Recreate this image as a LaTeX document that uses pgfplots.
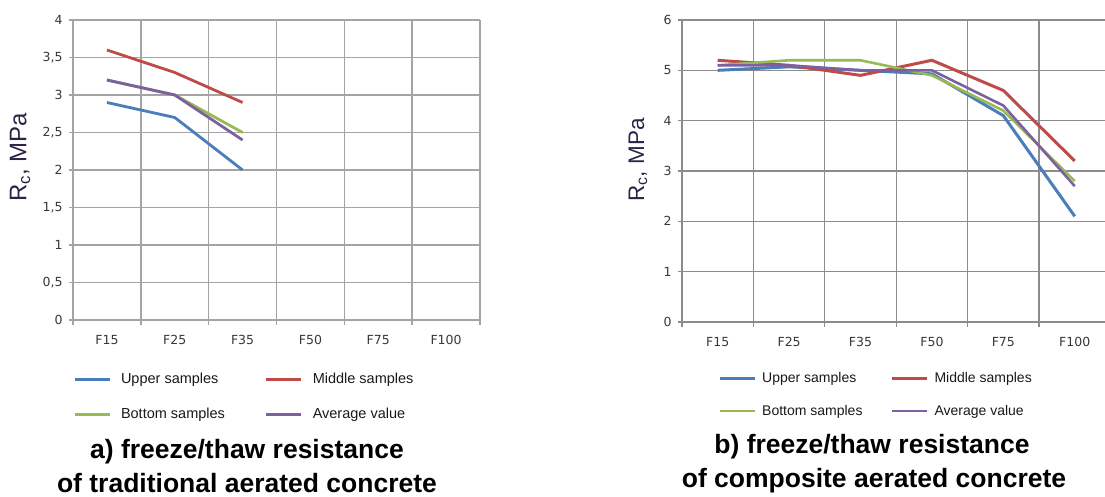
\documentclass[border=0pt]{standalone}
\usepackage{fontspec}
\setmainfont{Liberation Sans}
\newfontfamily\tickfont{DejaVu Sans}
\usepackage{pgfplots}
\pgfplotsset{compat=1.18}
\definecolor{cBlue}{HTML}{4A7EBB}
\definecolor{cRed}{HTML}{BE4B48}
\definecolor{cGreen}{HTML}{98B954}
\definecolor{cPurple}{HTML}{7D60A0}
\definecolor{cGridA}{HTML}{A4A4A4}
\definecolor{cGridB}{HTML}{8C8C8C}
\definecolor{cLab}{HTML}{2E2346}
\definecolor{cTick}{HTML}{383838}
\pgfplotsset{
  base/.style={
    scale only axis,
    axis x line=bottom, axis y line=left,
    xmin=-0.5, ymin=0,
    xtick={0,...,5}, xticklabels={F15,F25,F35,F50,F75,F100},
    major x tick style={draw=none},
    minor xtick={-0.5,0.5,...,5.5},
    xminorgrids, ymajorgrids,
    tick align=outside,
    major tick length=4pt, minor tick length=5pt,
    ytick pos=left, xtick pos=bottom,
    /pgf/number format/assume math mode=true,
    xticklabel style={font=\tickfont\fontsize{12.5}{14}\selectfont, text=cTick, yshift=-8pt},
    yticklabel style={font=\tickfont\fontsize{12.5}{14}\selectfont, text=cTick, xshift=-3pt,
      /pgf/number format/.cd, use comma, fixed, precision=1},
    ylabel={R\textsubscript{c}, MPa},
    ylabel style={text=cLab, anchor=center},
    legend columns=2,
    legend cell align=left,
    legend image code/.code={\draw[##1] (0pt,0pt) -- (35pt,0pt);},
    legend style={draw=none, fill=none, inner sep=0pt, anchor=north west,
      font=\fontsize{14.5}{17}\selectfont, text=black!90, row sep=19pt,
      /tikz/every odd column/.append style={column sep=8pt},
      /tikz/every even column/.append style={column sep=38pt}},
  },
}
\begin{document}
\begin{tikzpicture}
\useasboundingbox (0,0) rectangle (1105pt,496pt);
% ---------------- left chart ----------------
\begin{axis}[base,
  at={(73pt,176pt)}, anchor=south west, width=407pt, height=300pt,
  xmax=5.5, ymax=4, ytick={0,0.5,1,1.5,2,2.5,3,3.5,4},
  axis line style={cGridA, line width=1.6pt, -},
  minor x grid style={cGridA, line width=1.6pt},
  major y grid style={cGridA, line width=1.6pt},
  tick style={cGridA, line width=1.6pt},
  ylabel style={at={(axis description cs:-0.130,0.543)}, font=\fontsize{24}{26}\selectfont},
  legend style={at={(axis description cs:0,-0.170)}},
]
\addplot[cBlue, line width=2.8pt, forget plot] coordinates {(0,2.9) (1,2.7) (2,2.0)};
\addplot[cRed, line width=2.8pt, forget plot] coordinates {(0,3.6) (1,3.3) (2,2.9)};
\addplot[cGreen, line width=2.8pt, forget plot] coordinates {(0,3.2) (1,3.0) (2,2.5)};
\addplot[cPurple, line width=2.8pt, forget plot] coordinates {(0,3.2) (1,3.0) (2,2.4)};
\addlegendimage{cBlue, line width=2.8pt}
\addlegendentry{Upper samples}
\addlegendimage{cRed, line width=2.8pt}
\addlegendentry{Middle samples}
\addlegendimage{cGreen, line width=2.8pt}
\addlegendentry{Bottom samples}
\addlegendimage{cPurple, line width=2.8pt}
\addlegendentry{Average value}
\end{axis}
% ---------------- right chart ----------------
\begin{axis}[base,
  at={(682pt,174pt)}, anchor=south west, width=423pt, height=302pt,
  xmax=5.424, ymax=6, ytick={0,1,2,3,4,5,6},
  axis line style={cGridB, line width=1.1pt, -},
  minor x grid style={cGridB, line width=1.1pt},
  major y grid style={cGridB, line width=1.1pt},
  tick style={cGridB, line width=1.1pt},
  ylabel style={at={(axis description cs:-0.104,0.536)}, font=\fontsize{22.5}{24}\selectfont},
  legend style={at={(axis description cs:0.085,-0.160)}, font=\fontsize{14}{16}\selectfont,
    row sep=17pt,
    /tikz/every odd column/.append style={column sep=4pt},
    /tikz/every even column/.append style={column sep=26pt}},
]
\addplot[cBlue, line width=3pt, forget plot] coordinates {(0,5.0) (1,5.07) (2,5.0) (3,4.93) (4,4.1) (5,2.1)};
\addplot[cRed, line width=3pt, forget plot] coordinates {(0,5.2) (1,5.1) (2,4.9) (3,5.2) (4,4.6) (5,3.2)};
\addplot[cGreen, line width=2.6pt, forget plot] coordinates {(0,5.1) (1,5.2) (2,5.2) (3,4.9) (4,4.2) (5,2.8)};
\addplot[cPurple, line width=2.6pt, forget plot] coordinates {(0,5.1) (1,5.1) (2,5.0) (3,5.0) (4,4.3) (5,2.7)};
\addlegendimage{cBlue, line width=3pt}
\addlegendentry{Upper samples}
\addlegendimage{cRed, line width=3pt}
\addlegendentry{Middle samples}
\addlegendimage{cGreen, line width=2pt}
\addlegendentry{Bottom samples}
\addlegendimage{cPurple, line width=2pt}
\addlegendentry{Average value}
\end{axis}
% ---------------- captions ----------------
\begin{scope}[every node/.style={font=\bfseries\fontsize{26.5}{28}\selectfont, anchor=base, inner sep=0pt}]
\node at (247pt,38pt) {a) freeze/thaw resistance};
\node at (247pt,4pt) {of traditional aerated concrete};
\node at (872pt,43pt) {b) freeze/thaw resistance};
\node at (874pt,9pt) {of composite aerated concrete};
\end{scope}
\end{tikzpicture}
\end{document}
